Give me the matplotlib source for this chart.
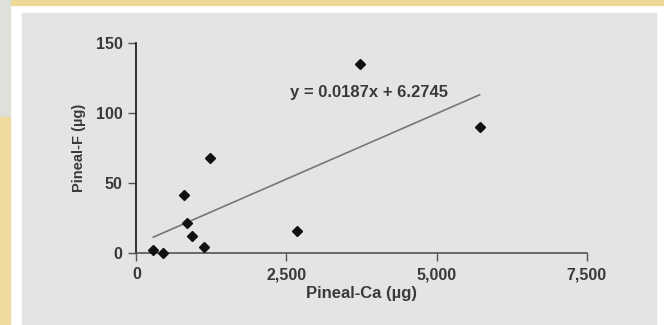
import numpy as np
import matplotlib.pyplot as plt
from matplotlib.patches import Rectangle

# pineal calcium vs fluoride (ug)
ca = [282, 445, 797, 840, 925, 1122, 1221, 2682, 3727, 5718]
f = [2.4, 0, 42, 22, 12.6, 4.3, 68, 16, 135.5, 90]
slope, icept = 0.0187, 6.2745
xticks = [0, 2500, 5000, 7500]
xticklabels = ["0", "2,500", "5,000", "7,500"]
yticks = [0, 50, 100, 150]

fig = plt.figure(figsize=(6.64, 3.25), dpi=100)
fig.patch.set_facecolor("white")

# slide-like frame around the chart
W, H = 664.0, 325.0
def rect(x0, y0, x1, y1, c):
    fig.patches.append(Rectangle((x0 / W, 1 - y1 / H), (x1 - x0) / W, (y1 - y0) / H,
                                 transform=fig.transFigure, color=c, zorder=-5))
rect(10, 0, 664, 5, "#efd996")
rect(0, 0, 10, 117, "#dde1d9")
rect(0, 117, 10, 325, "#efdba0")
rect(22, 13, 656, 325, "#e4e4e4")

ax = fig.add_axes([136.4 / W, 1 - 253.3 / H, 450.2 / W, 210 / H])
ax.set_facecolor("none")

ax.plot(ca, f, "D", color="#111111", markersize=5.5, clip_on=False, zorder=3)
xs = np.array([min(ca), max(ca)])
ax.plot(xs, slope * xs + icept, color="#777777", lw=1.2)

ax.text(3877, 114.5, "y = 0.0187x + 6.2745", ha="center", va="center",
        fontsize=12, fontweight="bold", color="#3a3a3a", family="Liberation Sans")

ax.set_xlim(0, 7500)
ax.set_ylim(0, 150)
ax.spines["top"].set_visible(False)
ax.spines["right"].set_visible(False)
ax.spines["left"].set_color("#111111")
ax.spines["bottom"].set_color("#555555")
ax.spines["left"].set_linewidth(1.2)
ax.spines["bottom"].set_linewidth(1.2)

ax.set_xticks(xticks)
ax.set_xticklabels(xticklabels)
ax.set_yticks(yticks)
ax.tick_params(direction="out", length=6, width=1, color="#555555",
               labelsize=11.5, labelcolor="#3a3a3a", pad=4)
for lab in ax.get_xticklabels() + ax.get_yticklabels():
    lab.set_family("Liberation Sans")
    lab.set_fontweight("bold")

ax.set_xlabel("Pineal-Ca (µg)", fontsize=12, fontweight="bold", color="#3a3a3a",
              family="Liberation Sans", labelpad=3)
ax.set_ylabel("Pineal-F (µg)", fontsize=10.5, fontweight="bold", color="#3a3a3a",
              family="Liberation Sans", labelpad=7)

fig.savefig("out.png", dpi=100)
